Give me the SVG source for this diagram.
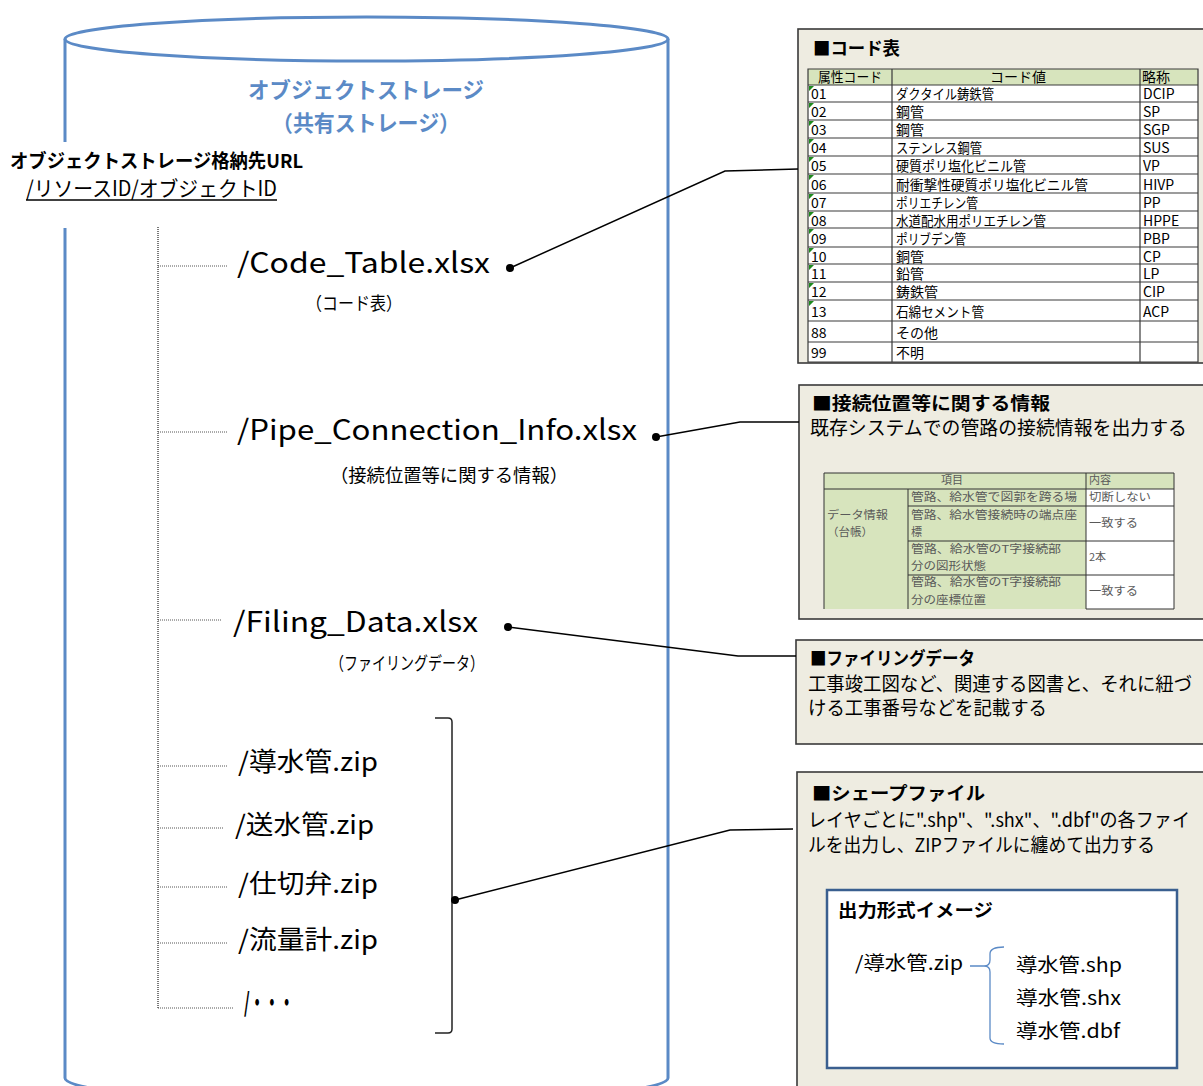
<svg xmlns="http://www.w3.org/2000/svg" width="1203" height="1086" viewBox="0 0 1203 1086">
<style>
text{font-family:"Noto Sans CJK JP","Noto Sans",sans-serif;fill:#000}
.cyl{fill:none;stroke:#5B8AC6;stroke-width:3}
.ttl{font-size:22px;font-weight:bold;fill:#5B8AC6}
.tree{fill:none;stroke:#555;stroke-width:1;stroke-dasharray:1 1}
.trunk{fill:none;stroke:#222;stroke-width:1.2;stroke-dasharray:1 1}
.file{font-size:28px}
.zip{font-size:26px}
.sub{font-size:18px}
.panel{fill:#EEECE1;stroke:#3A3A3A;stroke-width:1.6}
.ph{font-size:18px;font-weight:bold}
.pt{font-size:19px}
.cell{font-size:14px}
.grid{fill:none;stroke:#3A3A3A;stroke-width:1.2}
.hdr{fill:#D7E4BD}
.tri{fill:#1E8A1E}
.it{font-size:11px;fill:#595959}
.ig{fill:none;stroke:#333;stroke-width:1}
.conn{fill:none;stroke:#000;stroke-width:1.5}
.dot{fill:#000}
</style>

<g id="storage">
  <ellipse class="cyl" cx="366.5" cy="39" rx="301.5" ry="22"/>
  <path class="cyl" d="M65,39 L65,142 M65,228 L65,1078 M668,39 L668,1078 M65,1078 A301.5,25 0 0 0 668,1078"/>
  <text class="ttl" x="366" y="98" text-anchor="middle" textLength="236" lengthAdjust="spacingAndGlyphs">オブジェクトストレージ</text>
  <text class="ttl" x="366" y="131" text-anchor="middle" textLength="188" lengthAdjust="spacingAndGlyphs">（共有ストレージ）</text>
</g>

<g id="url-label">
  <text x="10" y="168" font-size="19" font-weight="bold" textLength="293" lengthAdjust="spacingAndGlyphs">オブジェクトストレージ格納先URL</text>
  <text x="26" y="196" font-size="21" textLength="251" lengthAdjust="spacingAndGlyphs">/リソースID/オブジェクトID</text>
  <line x1="26" y1="200" x2="277" y2="200" stroke="#000" stroke-width="1.3"/>
</g>

<g id="tree">
  <path class="trunk" d="M158,227 L158,1008"/>
  <path class="tree" d="M158,1008 L233,1008 M158,266 H228 M158,432 H228 M158,620 H222 M158,766 H228 M158,828 H224 M158,887 H228 M158,943 H228"/>
</g>

<g id="node-code-table">
  <text class="file" x="237" y="273" textLength="253" lengthAdjust="spacingAndGlyphs">/Code_Table.xlsx</text>
  <text class="sub" x="306" y="310" textLength="96" lengthAdjust="spacingAndGlyphs">（コード表）</text>
</g>
<g id="node-pipe-connection">
  <text class="file" x="237" y="440" textLength="400" lengthAdjust="spacingAndGlyphs">/Pipe_Connection_Info.xlsx</text>
  <text class="sub" x="330" y="482" textLength="238" lengthAdjust="spacingAndGlyphs">（接続位置等に関する情報）</text>
</g>
<g id="node-filing">
  <text class="file" x="233" y="632" textLength="245" lengthAdjust="spacingAndGlyphs">/Filing_Data.xlsx</text>
  <text class="sub" x="330" y="670" textLength="154" lengthAdjust="spacingAndGlyphs">（ファイリングデータ）</text>
</g>
<g id="node-zips">
  <text class="zip" x="238" y="771" textLength="140" lengthAdjust="spacingAndGlyphs">/導水管.zip</text>
  <text class="zip" x="235" y="834" textLength="139" lengthAdjust="spacingAndGlyphs">/送水管.zip</text>
  <text class="zip" x="238" y="893" textLength="140" lengthAdjust="spacingAndGlyphs">/仕切弁.zip</text>
  <text class="zip" x="238" y="949" textLength="140" lengthAdjust="spacingAndGlyphs">/流量計.zip</text>
  <text class="zip" x="244" y="1012" font-weight="bold" textLength="50" lengthAdjust="spacingAndGlyphs">/・・・</text>
  <path d="M435,718 L448,718 Q452,718 452,722 L452,1029 Q452,1033 448,1033 L435,1033" fill="none" stroke="#222" stroke-width="1.5"/>
</g>

<g id="panel-code-table">
  <rect class="panel" x="798" y="29" width="420" height="334"/>
  <text class="ph" x="813" y="55" textLength="87" lengthAdjust="spacingAndGlyphs">■コード表</text>
  <rect class="hdr" x="808" y="69" width="390" height="16"/>
  <rect x="808" y="85" width="390" height="277" fill="#fff"/>
  <path class="grid" d="M808,69 H1198 V362 H808 Z M892,69 V362 M1140,69 V362 M808,85 H1198 M808,102 H1198 M808,120 H1198 M808,138 H1198 M808,156 H1198 M808,174 H1198 M808,193 H1198 M808,211 H1198 M808,228 H1198 M808,247 H1198 M808,264 H1198 M808,282 H1198 M808,300 H1198 M808,321 H1198 M808,342 H1198"/>
  <path class="tri" d="M809,86 h5 l-5,5 z M809,103 h5 l-5,5 z M809,121 h5 l-5,5 z M809,139 h5 l-5,5 z M809,157 h5 l-5,5 z M809,175 h5 l-5,5 z M809,194 h5 l-5,5 z M809,212 h5 l-5,5 z M809,229 h5 l-5,5 z M809,248 h5 l-5,5 z M809,265 h5 l-5,5 z M809,283 h5 l-5,5 z M809,301 h5 l-5,5 z"/>
  <g>
    <text class="cell" x="850" y="82" text-anchor="middle" textLength="64" lengthAdjust="spacingAndGlyphs">属性コード</text>
    <text class="cell" x="1018" y="82" text-anchor="middle">コード値</text>
    <text class="cell" x="1142" y="82">略称</text>
    <text class="cell" x="811" y="99">01</text><text class="cell" x="896" y="99" textLength="98" lengthAdjust="spacingAndGlyphs">ダクタイル鋳鉄管</text><text class="cell" x="1143" y="99">DCIP</text>
    <text class="cell" x="811" y="117">02</text><text class="cell" x="896" y="117">鋼管</text><text class="cell" x="1143" y="117">SP</text>
    <text class="cell" x="811" y="135">03</text><text class="cell" x="896" y="135">鋼管</text><text class="cell" x="1143" y="135">SGP</text>
    <text class="cell" x="811" y="153">04</text><text class="cell" x="896" y="153" textLength="86" lengthAdjust="spacingAndGlyphs">ステンレス鋼管</text><text class="cell" x="1143" y="153">SUS</text>
    <text class="cell" x="811" y="171">05</text><text class="cell" x="896" y="171" textLength="130" lengthAdjust="spacingAndGlyphs">硬質ポリ塩化ビニル管</text><text class="cell" x="1143" y="171">VP</text>
    <text class="cell" x="811" y="189.5">06</text><text class="cell" x="896" y="189.5" textLength="192" lengthAdjust="spacingAndGlyphs">耐衝撃性硬質ポリ塩化ビニル管</text><text class="cell" x="1143" y="189.5">HIVP</text>
    <text class="cell" x="811" y="208">07</text><text class="cell" x="896" y="208" textLength="82" lengthAdjust="spacingAndGlyphs">ポリエチレン管</text><text class="cell" x="1143" y="208">PP</text>
    <text class="cell" x="811" y="225.5">08</text><text class="cell" x="896" y="225.5" textLength="150" lengthAdjust="spacingAndGlyphs">水道配水用ポリエチレン管</text><text class="cell" x="1143" y="225.5">HPPE</text>
    <text class="cell" x="811" y="243.5">09</text><text class="cell" x="896" y="243.5" textLength="70" lengthAdjust="spacingAndGlyphs">ポリブデン管</text><text class="cell" x="1143" y="243.5">PBP</text>
    <text class="cell" x="811" y="261.5">10</text><text class="cell" x="896" y="261.5">銅管</text><text class="cell" x="1143" y="261.5">CP</text>
    <text class="cell" x="811" y="279">11</text><text class="cell" x="896" y="279">鉛管</text><text class="cell" x="1143" y="279">LP</text>
    <text class="cell" x="811" y="297">12</text><text class="cell" x="896" y="297">鋳鉄管</text><text class="cell" x="1143" y="297">CIP</text>
    <text class="cell" x="811" y="316.5">13</text><text class="cell" x="896" y="316.5" textLength="88" lengthAdjust="spacingAndGlyphs">石綿セメント管</text><text class="cell" x="1143" y="316.5">ACP</text>
    <text class="cell" x="811" y="337.5">88</text><text class="cell" x="896" y="337.5">その他</text>
    <text class="cell" x="811" y="358">99</text><text class="cell" x="896" y="358">不明</text>
  </g>
</g>

<g id="panel-connection">
  <rect class="panel" x="799" y="385" width="420" height="234"/>
  <text class="ph" x="812" y="410" font-size="19" textLength="238" lengthAdjust="spacingAndGlyphs">■接続位置等に関する情報</text>
  <text class="pt" x="810" y="435" textLength="377" lengthAdjust="spacingAndGlyphs">既存システムでの管路の接続情報を出力する</text>
  <rect class="hdr" x="824" y="473" width="350" height="16"/>
  <rect class="hdr" x="824" y="489" width="262" height="120"/>
  <rect x="1086" y="489" width="88" height="120" fill="#fff"/>
  <path class="ig" d="M824,609 V473 H1174 V609 H1086 M824,489 H1174 M908,489 V609 M1086,473 V609 M908,506 H1174 M908,541 H1174 M908,575 H1174"/>
  <text class="it" x="952" y="484" text-anchor="middle">項目</text>
  <text class="it" x="1089" y="484">内容</text>
  <text class="it" x="827" y="519" textLength="61" lengthAdjust="spacingAndGlyphs">データ情報</text>
  <text class="it" x="827" y="536" textLength="46" lengthAdjust="spacingAndGlyphs">（台帳）</text>
  <text class="it" x="911" y="501" textLength="166" lengthAdjust="spacingAndGlyphs">管路、給水管で図郭を跨る場</text>
  <text class="it" x="1089" y="501" textLength="62" lengthAdjust="spacingAndGlyphs">切断しない</text>
  <text class="it" x="911" y="519" textLength="166" lengthAdjust="spacingAndGlyphs">管路、給水管接続時の端点座</text>
  <text class="it" x="911" y="536">標</text>
  <text class="it" x="1089" y="527" textLength="49" lengthAdjust="spacingAndGlyphs">一致する</text>
  <text class="it" x="911" y="553" textLength="150" lengthAdjust="spacingAndGlyphs">管路、給水管のT字接続部</text>
  <text class="it" x="911" y="570" textLength="75" lengthAdjust="spacingAndGlyphs">分の図形状態</text>
  <text class="it" x="1089" y="561">2本</text>
  <text class="it" x="911" y="586" textLength="150" lengthAdjust="spacingAndGlyphs">管路、給水管のT字接続部</text>
  <text class="it" x="911" y="604" textLength="75" lengthAdjust="spacingAndGlyphs">分の座標位置</text>
  <text class="it" x="1089" y="595" textLength="49" lengthAdjust="spacingAndGlyphs">一致する</text>
</g>

<g id="panel-filing">
  <rect class="panel" x="796" y="640" width="420" height="104"/>
  <text class="ph" x="810" y="665" textLength="165" lengthAdjust="spacingAndGlyphs">■ファイリングデータ</text>
  <text class="pt" x="808" y="691" textLength="384" lengthAdjust="spacingAndGlyphs">工事竣工図など、関連する図書と、それに紐づ</text>
  <text class="pt" x="808" y="715" textLength="239" lengthAdjust="spacingAndGlyphs">ける工事番号などを記載する</text>
</g>

<g id="panel-shapefile">
  <rect class="panel" x="797" y="772" width="420" height="330"/>
  <text class="ph" x="812" y="800" font-size="20" textLength="173" lengthAdjust="spacingAndGlyphs">■シェープファイル</text>
  <text class="pt" x="808" y="827" font-size="18" textLength="382" lengthAdjust="spacingAndGlyphs">レイヤごとに".shp"、".shx"、".dbf"の各ファイ</text>
  <text class="pt" x="808" y="852" textLength="347" lengthAdjust="spacingAndGlyphs">ルを出力し、ZIPファイルに纏めて出力する</text>
  <g id="output-image">
    <rect x="827" y="890" width="350" height="178" fill="#fff" stroke="#3A5F8F" stroke-width="2.5"/>
    <text class="ph" x="838" y="917" textLength="155" lengthAdjust="spacingAndGlyphs">出力形式イメージ</text>
    <text class="pt" x="855" y="970" textLength="108" lengthAdjust="spacingAndGlyphs">/導水管.zip</text>
    <path d="M970,966 H984 M1004,947 C994,947 990,949 990,954 L990,960 C990,964 988,966 984,966 C988,966 990,968 990,972 L990,1038 C990,1042 994,1044 1004,1044" fill="none" stroke="#5B8AC6" stroke-width="1.3"/>
    <text class="pt" x="1016" y="972" font-size="20" textLength="106" lengthAdjust="spacingAndGlyphs">導水管.shp</text>
    <text class="pt" x="1016" y="1005" font-size="20" textLength="105" lengthAdjust="spacingAndGlyphs">導水管.shx</text>
    <text class="pt" x="1016" y="1038" font-size="20" textLength="104" lengthAdjust="spacingAndGlyphs">導水管.dbf</text>
  </g>
</g>

<g id="connectors">
  <polyline class="conn" points="510,268 725,171 798,169"/>
  <polyline class="conn" points="656,437 740,422 799,422"/>
  <polyline class="conn" points="508,627 738,656 796,656"/>
  <polyline class="conn" points="455,900 730,830 793,829"/>
  <circle class="dot" cx="510" cy="268" r="4"/>
  <circle class="dot" cx="656" cy="437" r="4"/>
  <circle class="dot" cx="508" cy="627" r="4"/>
  <circle class="dot" cx="455" cy="900" r="4"/>
</g>
</svg>
